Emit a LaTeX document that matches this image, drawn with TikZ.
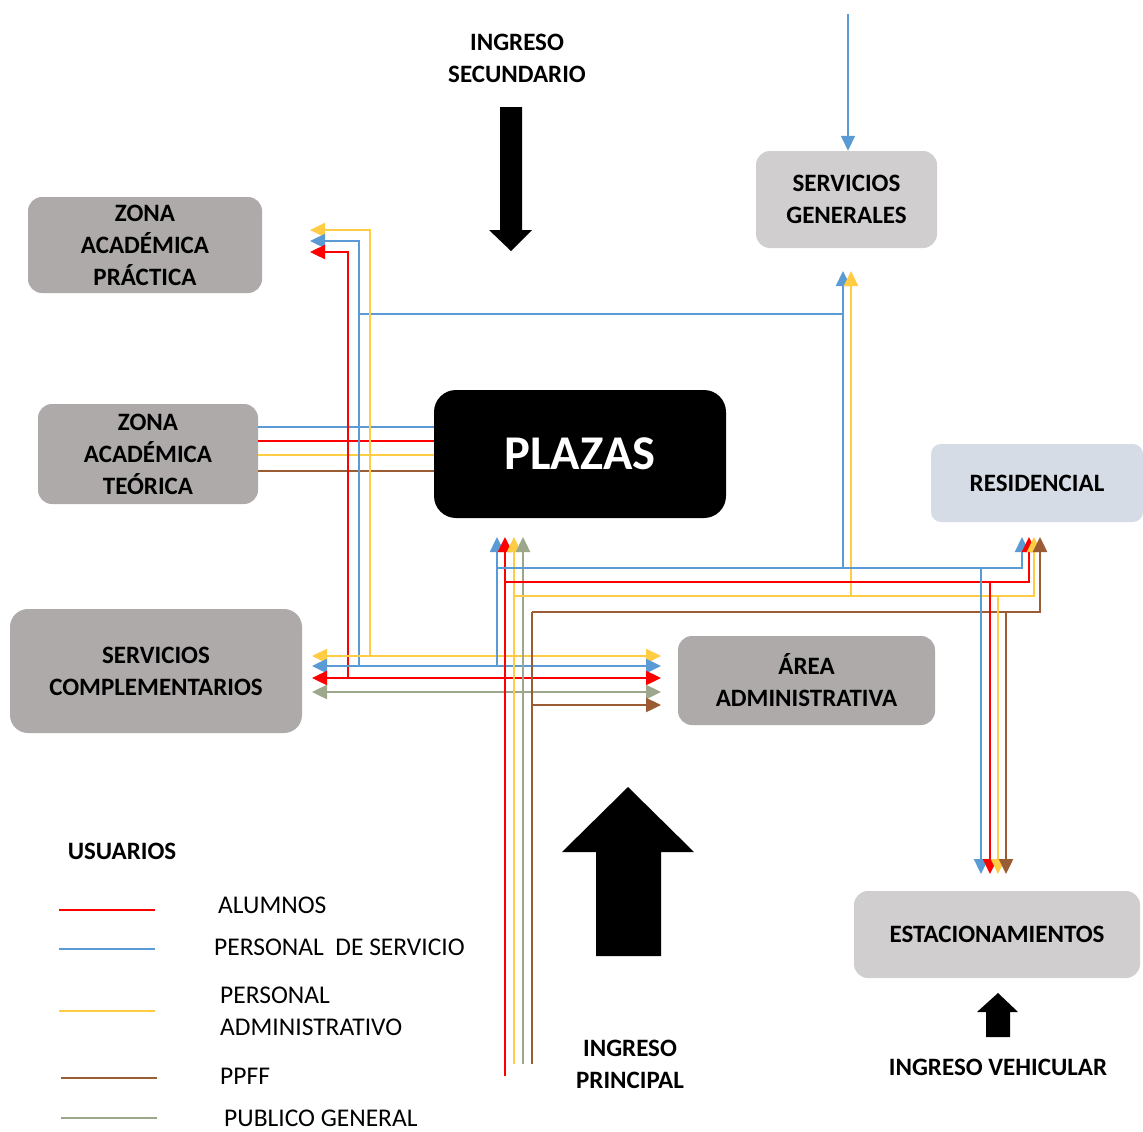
\documentclass[tikz,border=0pt]{standalone}
\usepackage{fontspec}
\setmainfont{Carlito}
\usetikzlibrary{arrows.meta}
\definecolor{cRed}{HTML}{FF0000}
\definecolor{cBlue}{HTML}{5B9BD5}
\definecolor{cYel}{HTML}{FFCC44}
\definecolor{cBrown}{HTML}{9A5C32}
\definecolor{cGreen}{HTML}{9DA78B}
\definecolor{boxDark}{HTML}{AEAAAA}
\definecolor{boxLight}{HTML}{D0CECE}
\definecolor{boxBlue}{HTML}{D6DCE5}
\begin{document}
\begin{tikzpicture}[x=1pt,y=-1pt,
  area/.style={rounded corners=14pt, inner sep=0pt, align=center,
    font=\fontsize{25}{32}\selectfont\bfseries, text=black},
  flow/.style={line width=2.4pt},
  tipend/.style={flow,-{Triangle[length=15pt,width=14pt]}},
  tipboth/.style={flow,{Triangle[length=15pt,width=14pt]}-{Triangle[length=15pt,width=14pt]}},
  keyline/.style={line width=2pt},
  keytext/.style={anchor=west, inner sep=0pt, align=left,
    font=\fontsize{25.5}{32}\selectfont},
  title/.style={inner sep=0pt, align=center, font=\fontsize{25}{32}\selectfont\bfseries}]
\useasboundingbox (0,0) rectangle (1143,1132);

% ---- zones ----
\node[area, fill=boxDark, minimum width=234pt, minimum height=96pt] (zap) at (145,245)
  {ZONA\\ACADÉMICA\\PRÁCTICA};
\node[area, fill=boxDark, minimum width=220pt, minimum height=100pt] (zat) at (148,454)
  {ZONA\\ACADÉMICA\\TEÓRICA};
\node[area, fill=boxDark, minimum width=292pt, minimum height=124pt, rounded corners=18pt] (sc) at (156,671)
  {SERVICIOS\\COMPLEMENTARIOS};
\node[area, fill=black, text=white, minimum width=292pt, minimum height=128pt, rounded corners=22pt,
  font=\fontsize{48.5}{50}\selectfont\bfseries] (plazas) at (580,454) {PLAZAS};
\node[area, fill=boxLight, minimum width=181pt, minimum height=97pt] (sg) at (846.5,199.5)
  {SERVICIOS\\GENERALES};
\node[area, fill=boxBlue, minimum width=212pt, minimum height=78pt, rounded corners=10pt] (res) at (1037,483)
  {RESIDENCIAL};
\node[area, fill=boxDark, minimum width=257pt, minimum height=89pt] (aa) at (806.5,680.5)
  {ÁREA\\ADMINISTRATIVA};
\node[area, fill=boxLight, minimum width=286pt, minimum height=87pt] (est) at (997,934.5)
  {ESTACIONAMIENTOS};

% ---- entrances ----
\node[title] (ingsec) at (517,58) {INGRESO\\SECUNDARIO};
\node[title] (ingpri) at (630,1064) {INGRESO\\PRINCIPAL};
\node[title] (ingveh) at (998,1067) {INGRESO VEHICULAR};
\fill[black] (500,107) -- (522,107) -- (522,230) -- (532,230) -- (511,251) -- (489,230) -- (500,230) -- cycle;
\fill[black] (596,956) -- (661,956) -- (661,852) -- (694,852) -- (628,787) -- (562,852) -- (596,852) -- cycle;
\fill[black] (986,1037) -- (1010,1037) -- (1010,1012) -- (1018,1012) -- (998,993) -- (977,1012) -- (986,1012) -- cycle;

% ---- routing points ----
\coordinate (topin) at (848,14);
\coordinate (sgB) at (843,271);  \coordinate (sgY) at (851,271);
\coordinate (zapY) at (310,230); \coordinate (zapB) at (310,241); \coordinate (zapR) at (310,252);
\coordinate (scY) at (312,656);  \coordinate (scB) at (312,666);  \coordinate (scR) at (312,678);  \coordinate (scG) at (312,692);
\coordinate (aaY) at (661,656);  \coordinate (aaB) at (661,666);  \coordinate (aaR) at (661,678);  \coordinate (aaG) at (661,692);  \coordinate (aaW) at (661,705);
\coordinate (plB) at (497,537);  \coordinate (plR) at (505,537);  \coordinate (plY) at (514,537);  \coordinate (plG) at (523,537);
\coordinate (resB) at (1022,537); \coordinate (resR) at (1029,537); \coordinate (resY) at (1034,537); \coordinate (resW) at (1040,537);
\coordinate (estB) at (981,874); \coordinate (estR) at (990,874); \coordinate (estY) at (998,874); \coordinate (estW) at (1006,874);
\coordinate (inR) at (505,1076); \coordinate (inY) at (514,1064); \coordinate (inG) at (523,1064); \coordinate (inW) at (532,1064);

% ---- teórica to plazas ----
\draw[flow, cBlue]  (zat.east |- 0,427) -- (plazas.west |- 0,427);
\draw[flow, cRed]   (zat.east |- 0,441) -- (plazas.west |- 0,441);
\draw[flow, cYel]   (zat.east |- 0,455) -- (plazas.west |- 0,455);
\draw[flow, cBrown] (zat.east |- 0,471) -- (plazas.west |- 0,471);

% ---- servicios generales ----
\draw[tipend, cBlue, line width=1.6pt] (topin) -- (sg.north -| topin);
\draw[flow, cBlue] (359,314) -- (843,314);
\draw[tipend, cBlue] (843,568) -- (sgB);
\draw[tipend, cYel]  (851,596) -- (sgY);

% ---- práctica / complementarios / administrativa ----
\draw[tipend, cYel]  (370,656) -- (370,230) -- (zapY);
\draw[tipend, cBlue] (359,666) -- (359,241) -- (zapB);
\draw[tipend, cRed]  (348,678) -- (348,252) -- (zapR);
\draw[tipboth, cYel]   (scY) -- (aaY);
\draw[tipboth, cBlue]  (scB) -- (aaB);
\draw[tipboth, cRed]   (scR) -- (aaR);
\draw[tipboth, cGreen] (scG) -- (aaG);
\draw[tipend, cBrown] (532,705) -- (aaW);

% ---- main entrance to plazas ----
\draw[tipend, cBlue]  (497,666) -- (plB);
\draw[tipend, cRed]   (inR) -- (plR);
\draw[tipend, cYel]   (inY) -- (plY);
\draw[tipend, cGreen] (inG) -- (plG);
\draw[flow, cBrown] (inW) -- (532,612);

% ---- residencial and estacionamientos ----
\draw[tipend, cBlue]  (497,568) -- (1022,568) -- (resB);
\draw[tipend, cRed]   (505,582) -- (1029,582) -- (resR);
\draw[tipend, cYel]   (514,596) -- (1034,596) -- (resY);
\draw[tipend, cBrown] (532,612) -- (1040,612) -- (resW);
\draw[tipend, cBlue]  (981,568) -- (estB);
\draw[tipend, cRed]   (990,582) -- (estR);
\draw[tipend, cYel]   (998,596) -- (estY);
\draw[tipend, cBrown] (1006,612) -- (estW);

% ---- legend ----
\node[title] (usuarios) at (122,851) {USUARIOS};
\coordinate (kR0) at (59,910);   \coordinate (kR1) at (155,910);
\coordinate (kB0) at (59,949);   \coordinate (kB1) at (155,949);
\coordinate (kY0) at (59,1011);  \coordinate (kY1) at (155,1011);
\coordinate (kW0) at (61,1078);  \coordinate (kW1) at (157,1078);
\coordinate (kG0) at (61,1118);  \coordinate (kG1) at (157,1118);
\draw[keyline, cRed]   (kR0) -- (kR1);
\draw[keyline, cBlue]  (kB0) -- (kB1);
\draw[keyline, cYel]   (kY0) -- (kY1);
\draw[keyline, cBrown] (kW0) -- (kW1);
\draw[keyline, cGreen] (kG0) -- (kG1);
\node[keytext] (lalu) at (218,905) {ALUMNOS};
\node[keytext] (lser) at (214,947) {PERSONAL\ \ DE SERVICIO};
\node[keytext] (ladm) at (220,1011) {PERSONAL\\ADMINISTRATIVO};
\node[keytext] (lppf) at (220,1076) {PPFF};
\node[keytext] (lpub) at (224,1118) {PUBLICO GENERAL};
\end{tikzpicture}
\end{document}
